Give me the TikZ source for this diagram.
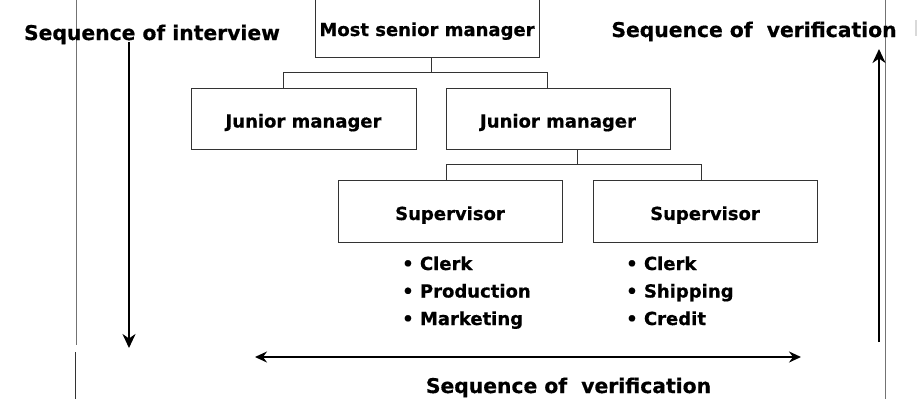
\documentclass[tikz,border=0pt]{standalone}
\usepackage{fontspec}
\setmainfont{DejaVu Sans}[BoldFeatures={FakeBold=0.6}]
\usetikzlibrary{arrows.meta,calc}
\begin{document}
\begin{tikzpicture}[x=1pt,y=-1pt,
  box/.style={draw=black!80, line width=0.9pt, minimum width=224pt, minimum height=61pt,
    inner sep=0pt, text height=18pt, text depth=0pt, font=\fontsize{18}{20}\selectfont\bfseries},
  conn/.style={draw=black!80, line width=0.9pt},
  head/.style={font=\fontsize{20.3}{22}\selectfont\bfseries, inner sep=0pt, anchor=base},
  item/.style={font=\fontsize{18}{20}\selectfont\bfseries, inner sep=0pt, anchor=base west},
  varr/.style={line width=2.4pt, -{Stealth[length=14pt,width=13pt,inset=4.5pt]}},
  harr/.style={line width=1.9pt, {Stealth[length=12pt,width=11pt,inset=4pt]}-{Stealth[length=12pt,width=11pt,inset=4pt]}},
  pageline/.style={draw=black!55, line width=1pt}]
\useasboundingbox (0,0) rectangle (917,399);
\clip (0,0) rectangle (917,399);
\fill[white] (0,0) rectangle (917,399);
% page edges
\draw[pageline] (76,0) -- (76,345);
\draw[pageline, draw=black!80] (75,352) -- (75,399);
\draw[pageline] (885,0) -- (885,399);
\draw[black!15, line width=1.5pt] (916,20) -- (916,36);
% boxes
\node[box, minimum height=60pt] (top) at (427,27) {Most senior manager};
\node[box, minimum width=225pt] (jm1) at (303.5,118.5) {Junior manager};
\node[box] (jm2) at (558,118.5) {Junior manager};
\node[box, minimum height=62pt] (sv1) at (450,211) {Supervisor};
\node[box, minimum height=62pt] (sv2) at (705,211) {Supervisor};
% connectors
\draw[conn] ([xshift=4pt]top.south) -- ++(0,15) coordinate (j1);
\draw[conn] ([xshift=-20pt]jm1.north) |- (j1) -| ([xshift=-11pt]jm2.north);
\draw[conn] ([xshift=19pt]jm2.south) -- ++(0,15) coordinate (j2);
\draw[conn] ([xshift=-4pt]sv1.north) |- (j2) -| ([xshift=-4pt]sv2.north);
% lists
\node[item] (l1a) at (402,270) {• Clerk};
\node[item] (l1b) at (402,297.5) {• Production};
\node[item] (l1c) at (402,325) {• Marketing};
\node[item] (l2a) at (626,270) {• Clerk};
\node[item] (l2b) at (626,297.5) {• Shipping};
\node[item] (l2c) at (626,325) {• Credit};
% headings
\node[head] (h1) at (152,40) {Sequence of interview};
\node[head] (h2) at (754,37) {Sequence of\ \ verification};
\node[head] (h3) at (568.5,393) {Sequence of\ \ verification};
% arrows
\coordinate (a1s) at (129,42);
\coordinate (a1e) at (129,348);
\draw[varr] (a1s) -- (a1e);
\coordinate (a2s) at (879,342);
\coordinate (a2e) at (879,49);
\draw[varr] (a2s) -- (a2e);
\coordinate (a3s) at (255,357);
\coordinate (a3e) at (801,357);
\draw[harr] (a3s) -- (a3e);
\end{tikzpicture}
\end{document}
